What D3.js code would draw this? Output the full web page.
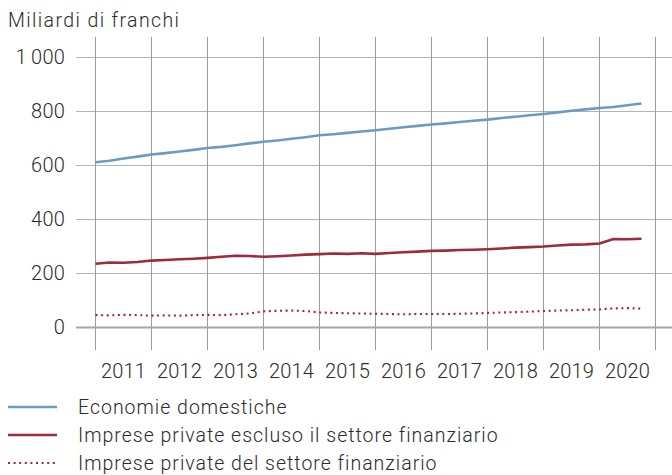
<!DOCTYPE html>
<html>
<head>
<meta charset="utf-8">
<script src="https://cdn.jsdelivr.net/npm/d3@7"></script>
<style>
  html, body { margin: 0; padding: 0; background: #fff; }
  svg { display: block; font-family: Roboto, "Noto Sans", sans-serif; font-weight: 300; }
</style>
</head>
<body>
<svg id="chart" width="672" height="475"></svg>
<script>
// Quarterly stock, billions of francs, 2011 Q1 – 2020 Q4
const startYear = 2011;
const years = [2011, 2012, 2013, 2014, 2015, 2016, 2017, 2018, 2019, 2020];
const yTicks = [0, 200, 400, 600, 800, 1000];

const households = [
  610, 616, 624, 631, 639, 644, 650, 656, 663, 667,
  673, 680, 686, 691, 697, 703, 710, 714, 719, 724,
  729, 734, 740, 745, 750, 754, 759, 764, 768, 774,
  779, 784, 789, 795, 801, 806, 811, 815, 821, 828
];
const nonFinancial = [
  234, 239, 238, 241, 246, 248, 251, 253, 256, 260,
  264, 263, 260, 262, 265, 268, 270, 272, 271, 273,
  271, 274, 277, 279, 282, 283, 285, 286, 288, 291,
  294, 296, 298, 302, 305, 306, 309, 326, 325, 327
];
const financial = [
  44, 43, 45, 44, 42, 43, 42, 44, 45, 44,
  47, 50, 58, 60, 61, 59, 54, 52, 51, 50,
  49, 48, 47, 48, 48, 48, 49, 50, 52, 54,
  55, 57, 59, 61, 62, 64, 65, 69, 70, 68
];

const seriesNames = [
  "Economie domestiche",
  "Imprese private escluso il settore finanziario",
  "Imprese private del settore finanziario"
];
const seriesColors = ["#6b9bc5", "#9e2a3c", "#9e2a3c"];
const seriesDash = [null, null, "2,3.6"];
const seriesWidth = [2.6, 2.6, 2.1];
const seriesData = [households, nonFinancial, financial];

const svg = d3.select("#chart");
const textColor = "#2b2b2b";

const x = d3.scaleLinear().domain([2011, 2021]).range([95.5, 655.5]);
const y = d3.scaleLinear().domain([0, 1000]).range([327, 57]);

// unit label
svg.append("text")
  .attr("x", 8).attr("y", 27)
  .attr("font-size", 19.5).attr("letter-spacing", 1.4).attr("fill", textColor)
  .text("Miliardi di franchi");

// horizontal grid
const fmt = d3.formatLocale({ decimal: ",", thousands: "\u2009", grouping: [3], currency: ["", ""] }).format(",d");
svg.append("g").selectAll("line").data(yTicks.filter(d => d !== 0)).join("line")
  .attr("x1", 76).attr("x2", 672)
  .attr("y1", d => Math.round(y(d)) + 0.5).attr("y2", d => Math.round(y(d)) + 0.5)
  .attr("stroke", "#b4b4b4").attr("stroke-width", 1);

// vertical grid at year boundaries
const yearEdges = d3.range(2011, 2022);
svg.append("g").selectAll("line").data(yearEdges).join("line")
  .attr("x1", d => x(d)).attr("x2", d => x(d))
  .attr("y1", 37).attr("y2", 350)
  .attr("stroke", "#9c9c9c").attr("stroke-width", 1);

// zero line
svg.append("line")
  .attr("x1", 76).attr("x2", 672)
  .attr("y1", y(0) + 0.5).attr("y2", y(0) + 0.5)
  .attr("stroke", "#a6a6a6").attr("stroke-width", 2);

// y tick labels
svg.append("g").selectAll("text").data(yTicks).join("text")
  .attr("x", 65).attr("y", d => y(d))
  .attr("dy", "0.36em")
  .attr("text-anchor", "end")
  .attr("font-size", 20).attr("letter-spacing", 0.2).attr("fill", textColor)
  .text(d => fmt(d).replace(",", "\u2009"));

// year labels centred in each band
svg.append("g").selectAll("text").data(years).join("text")
  .attr("x", d => x(d + 0.5)).attr("y", 378)
  .attr("text-anchor", "middle")
  .attr("font-size", 20).attr("letter-spacing", 0.2).attr("fill", textColor)
  .text(d => d);

// series lines
const line = d3.line()
  .x((d, i) => x(startYear + i / 4))
  .y(d => y(d));

seriesData.forEach((vals, k) => {
  svg.append("path")
    .datum(vals)
    .attr("d", line)
    .attr("fill", "none")
    .attr("stroke", seriesColors[k])
    .attr("stroke-width", seriesWidth[k])
    .attr("stroke-linejoin", "round")
    .attr("stroke-dasharray", seriesDash[k]);
});

// legend
const legend = svg.append("g");
seriesNames.forEach((name, k) => {
  const ly = 407 + k * 28;
  legend.append("line")
    .attr("x1", 8).attr("x2", 57)
    .attr("y1", ly).attr("y2", ly)
    .attr("stroke", seriesColors[k])
    .attr("stroke-width", seriesWidth[k])
    .attr("stroke-dasharray", seriesDash[k]);
  legend.append("text")
    .attr("x", 78).attr("y", ly)
    .attr("dy", "0.36em")
    .attr("font-size", 19.5).attr("letter-spacing", 1).attr("fill", textColor)
    .text(name);
});
</script>
</body>
</html>
